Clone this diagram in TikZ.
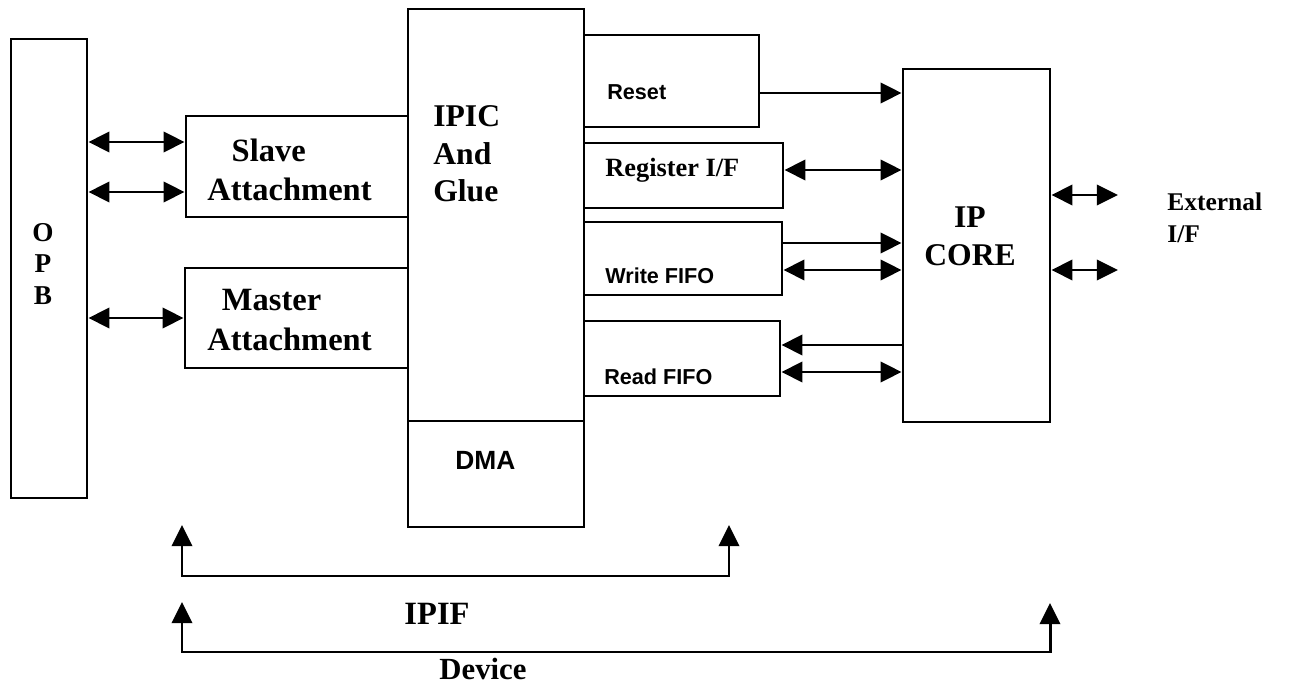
\documentclass[tikz,border=0pt]{standalone}
\usepackage{fontspec}
\setmainfont{Liberation Serif}
\newfontfamily\arialfont{Liberation Sans}
\usetikzlibrary{arrows.meta,fit}

\begin{document}
\begin{tikzpicture}[x=0.02cm, y=-0.02cm,
  boite/.style={draw, line width=1.6pt, inner sep=0pt},
  fl/.style={line width=1.7pt, -{Triangle[length=12pt,width=11.5pt]}},
  dfl/.style={line width=1.7pt, {Triangle[length=12pt,width=11.5pt]}-{Triangle[length=12pt,width=11.5pt]}},
  grand/.style={font=\bfseries\fontsize{18.5}{22.5}\selectfont, align=left, inner sep=0pt},
  moyen/.style={font=\bfseries\fontsize{15}{18}\selectfont, align=left, inner sep=0pt},
  petit/.style={font=\arialfont\bfseries\fontsize{12.3}{14}\selectfont, inner sep=0pt}]
  \useasboundingbox (0,0) rectangle (1296,689);

  % Les boites
  \node[boite, fit={(11,39) (87,498)}] (opb) {};
  \node[boite, fit={(186,116) (408,217)}] (slave) {};
  \node[boite, fit={(185,268) (408,368)}] (master) {};
  \node[boite, fit={(408,9) (584,421)}] (ipic) {};
  \node[boite, fit={(408,421) (584,527)}] (dma) {};
  \node[boite, fit={(584,35) (759,127)}] (reset) {};
  \node[boite, fit={(584,143) (783,208)}] (regif) {};
  \node[boite, fit={(584,222) (782,295)}] (wfifo) {};
  \node[boite, fit={(584,321) (780,396)}] (rfifo) {};
  \node[boite, fit={(903,69) (1050,422)}] (core) {};

  % Les textes
  \node[font=\bfseries\fontsize{15.5}{18}\selectfont, align=center, inner sep=0pt] (opbtxt) at (43,264) {O\\P\\B};
  \node[grand, anchor=west] (slavetxt) at (207,170) {\hspace*{0.75em}Slave\\Attachment};
  \node[grand, anchor=west] (mastertxt) at (207,320) {\hspace*{0.45em}Master\\Attachment};
  \node[grand, anchor=west, font=\bfseries\fontsize{18}{21.3}\selectfont] (ipictxt) at (433,154) {IPIC\\And\\Glue};
  \node[petit, anchor=west, font=\arialfont\bfseries\fontsize{15}{18}\selectfont] (dmatxt) at (455,460) {DMA};
  \node[petit, anchor=west] (resettxt) at (607,92) {Reset};
  \node[moyen, anchor=west] (regiftxt) at (605,170) {Register I/F};
  \node[petit, anchor=west] (wfifotxt) at (605,276) {Write FIFO};
  \node[petit, anchor=west] (rfifotxt) at (604,377) {Read FIFO};
  \node[grand, align=center, font=\bfseries\fontsize{18}{21.5}\selectfont] (coretxt) at (970,236) {IP\\CORE};
  \node[moyen, anchor=west, font=\bfseries\fontsize{14.5}{18}\selectfont] (exttxt) at (1167,218) {External\\I/F};
  \node[grand] (ipiftxt) at (437,614) {IPIF};
  \node[grand, font=\bfseries\fontsize{17.5}{21}\selectfont] (devicetxt) at (483,669) {Device};

  % Les fleches
  \draw[dfl] (opb.east |- 0,142) -- (slave.west |- 0,142);
  \draw[dfl] (opb.east |- 0,192) -- (slave.west |- 0,192);
  \draw[dfl] (opb.east |- 0,318) -- (master.west |- 0,318);
  \draw[fl] (reset.east |- 0,93) -- (core.west |- 0,93);
  \draw[dfl] (regif.east |- 0,170) -- (core.west |- 0,170);
  \draw[fl] (wfifo.east |- 0,243) -- (core.west |- 0,243);
  \draw[dfl] (wfifo.east |- 0,270) -- (core.west |- 0,270);
  \draw[fl] (core.west |- 0,345) -- (rfifo.east |- 0,345);
  \draw[dfl] (rfifo.east |- 0,372) -- (core.west |- 0,372);

  % Interface externe
  \coordinate (ext1) at (1118,195);
  \coordinate (ext2) at (1118,270);
  \draw[dfl] (core.east |- ext1) -- (ext1);
  \draw[dfl] (core.east |- ext2) -- (ext2);

  % Les accolades du bas
  \coordinate (ipifG) at (182,576);
  \coordinate (ipifD) at (729,576);
  \coordinate (devG) at (182,652);
  \coordinate (devD) at (1050,652);
  \draw[dfl] (ipifG |- 0,525) -- (ipifG) -- (ipifD) -- (ipifD |- 0,525);
  \draw[dfl] (devG |- 0,602) -- (devG) -- (devD) -- (devD |- 0,603);

\end{tikzpicture}
\end{document}
